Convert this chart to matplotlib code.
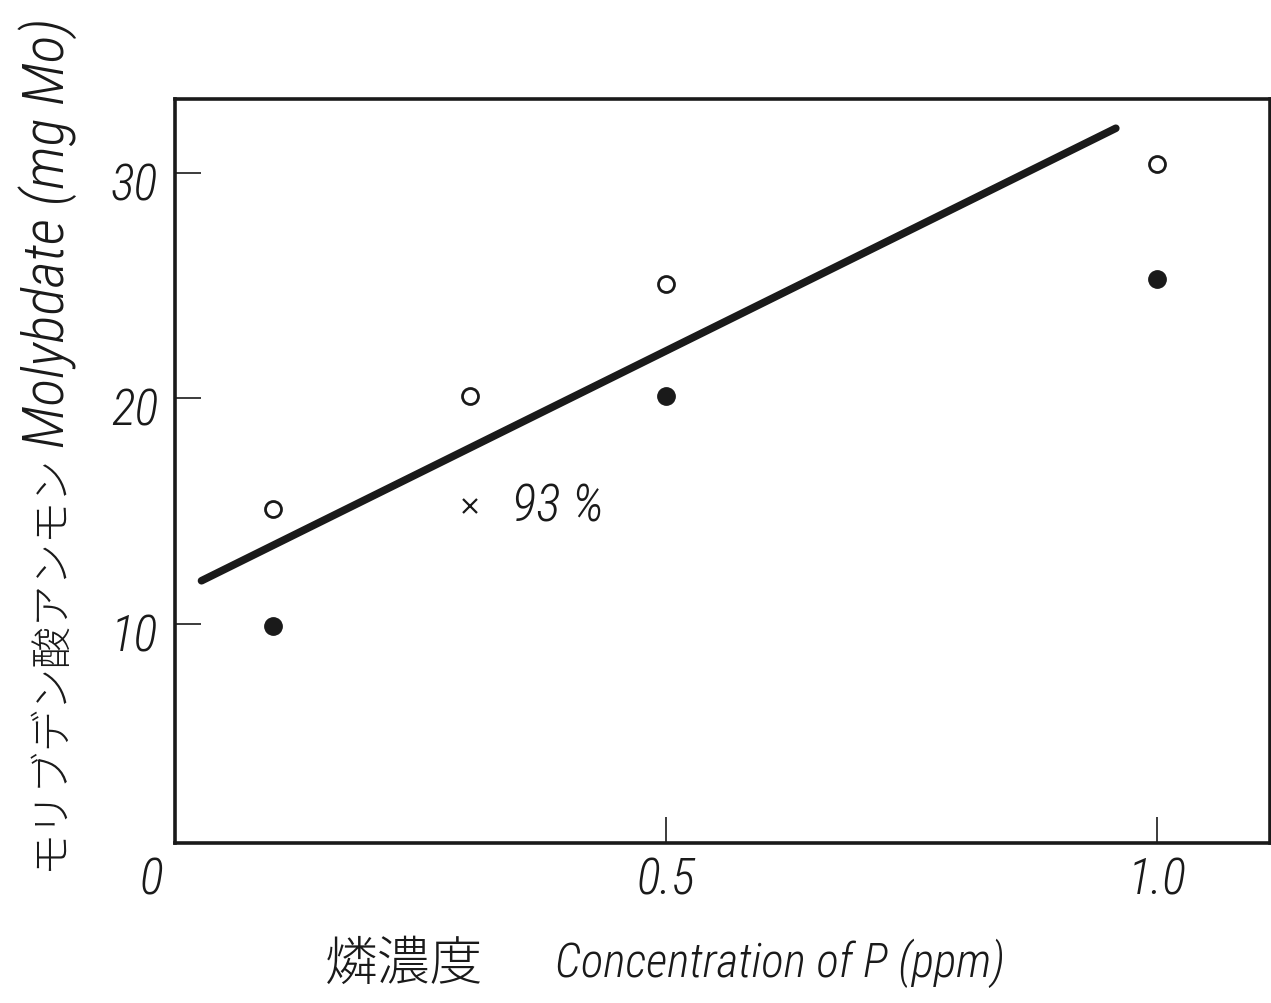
import matplotlib
matplotlib.use("Agg")
import matplotlib.pyplot as plt
from matplotlib import font_manager
from matplotlib.transforms import ScaledTranslation

# ---- data ----
x_open = [0.1, 0.3, 0.5, 1.0]
y_open = [15.1, 20.1, 25.1, 30.4]
x_filled = [0.1, 0.5, 1.0]
y_filled = [9.9, 20.1, 25.3]
x_cross = [0.3]
y_cross = [15.2]
cross_label = "93 %"
fit_x = [0.027, 0.958]
fit_y = [11.9, 32.0]
xticks = [0, 0.5, 1.0]
xticklabels = ["0", "0.5", "1.0"]
yticks = [10, 20, 30]
yticklabels = ["10", "20", "30"]
ylabel_jp = "モリブデン酸アンモン"
ylabel_en = "Molybdate (mg Mo)"
xlabel_jp = "燐濃度"
xlabel_en = "Concentration of P (ppm)"

avail = {f.name for f in font_manager.fontManager.ttflist}
narrow = None
for cand in ["Roboto Condensed", "Liberation Sans Narrow", "DejaVu Sans Condensed"]:
    if cand in avail:
        narrow = cand
        break
if narrow is None:
    narrow = "DejaVu Sans"
NAR = dict(family=[narrow, "DejaVu Sans"], style="italic", weight="light")
JP = dict(family=["Noto Sans CJK JP", "DejaVu Sans"], weight="light")
INK = "#1a1a1a"

W, H = 1271, 1004
fig = plt.figure(figsize=(W / 100, H / 100), dpi=100)
fig.patch.set_facecolor("white")
ax = fig.add_axes([175 / W, 1 - 844 / H, (1270 - 175) / W, (844 - 100) / H])

ax.set_xlim(0, 1.115)
ax.set_ylim(0.25, 33.3)

ax.plot(fit_x, fit_y, color=INK, lw=5.5, solid_capstyle="round")
ax.plot(x_open, y_open, ls="none", marker="o", ms=11.5, mfc="white", mec=INK, mew=2.0)
ax.plot(x_filled, y_filled, ls="none", marker="o", ms=12.5, mfc=INK, mec=INK)
ax.plot(x_cross, y_cross, ls="none", marker="x", ms=10, mec=INK, mew=1.6)
ax.text(0.343, y_cross[0], cross_label, ha="left", va="center", fontsize=37, color=INK, **NAR)

for s in ax.spines.values():
    s.set_linewidth(2.6)
    s.set_color(INK)

ax.set_xticks(xticks)
ax.set_xticklabels(xticklabels, fontsize=36, color=INK, **NAR)
ax.set_yticks(yticks)
ax.set_yticklabels(yticklabels, fontsize=36, color=INK, **NAR)
ax.tick_params(axis="both", direction="in", length=19, width=1.2, color=INK)
ax.tick_params(axis="x", pad=10)
ax.tick_params(axis="y", pad=12)

# shift labels slightly
for lab in ax.get_yticklabels():
    lab.set_transform(lab.get_transform() + ScaledTranslation(0, -8 / 100, fig.dpi_scale_trans))
xl = ax.get_xticklabels()
xl[0].set_transform(xl[0].get_transform() + ScaledTranslation(-24 / 100, 0, fig.dpi_scale_trans))

# axis labels
fig.text(325 / W, 1 - 965 / H, xlabel_jp, ha="left", va="center", fontsize=38, color=INK, **JP)
fig.text(555 / W, 1 - 963 / H, xlabel_en, ha="left", va="center", fontsize=34, color=INK, **NAR)
fig.text(50 / W, 1 - 870 / H, ylabel_jp, ha="center", va="bottom", rotation=90, fontsize=30, color=INK, **JP)
fig.text(48 / W, 1 - 448 / H, ylabel_en, ha="center", va="bottom", rotation=90, fontsize=42, color=INK, **NAR)

fig.savefig("out.png", dpi=100, facecolor="white")
